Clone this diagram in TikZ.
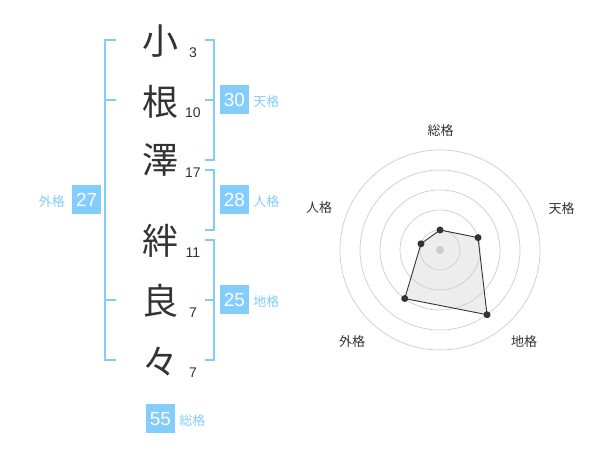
\documentclass[tikz,border=0pt]{standalone}
\usepackage{fontspec}
\newfontfamily\cjk{Noto Sans CJK JP}
\newfontfamily\digits{Liberation Sans}
\usetikzlibrary{positioning}
\definecolor{sky}{RGB}{130,205,252}
\definecolor{ink}{RGB}{51,51,51}
\definecolor{ring}{RGB}{204,204,204}

\tikzset{
  kanji/.style={inner sep=0pt, text=ink, font=\cjk\fontsize{36}{36}\selectfont},
  strokes/.style={inner sep=0pt, text=ink, font=\digits\fontsize{14}{14}\selectfont},
  kakubox/.style={fill=sky, text=white, minimum size=29pt, inner sep=0pt, font=\digits\fontsize{19}{19}\selectfont},
  kakuname/.style={inner sep=0pt, text=sky, font=\cjk\fontsize{13}{13}\selectfont},
  bracket/.style={draw=sky, line width=2pt},
  axisname/.style={inner sep=0pt, text=ink, font=\cjk\fontsize{13}{13}\selectfont},
  ptdot/.style={circle, fill=ink, minimum size=7pt, inner sep=0pt}
}

\begin{document}
\begin{tikzpicture}[x=1pt, y=1pt]
  \useasboundingbox (0,0) rectangle (600,470);

  % name characters and stroke counts
  \node[kanji] (c1) at (160,428.5) {小};
  \node[kanji] (c2) at (160,368.5) {根};
  \node[kanji] (c3) at (160,310) {澤};
  \node[kanji] (c4) at (160,229) {絆};
  \node[kanji] (c5) at (160,169) {良};
  \node[kanji] (c6) at (160,108.3) {々};

  \node[strokes] (n1) at (193,417) {3};
  \node[strokes] (n2) at (193,357) {10};
  \node[strokes] (n3) at (193,297) {17};
  \node[strokes] (n4) at (193,217) {11};
  \node[strokes] (n5) at (193,157) {7};
  \node[strokes] (n6) at (193,97) {7};

  % brackets
  \draw[bracket] (116,430) -- (105,430) -- (105,110) -- (116,110);
  \draw[bracket] (105,370) -- (116,370);
  \draw[bracket] (105,170) -- (116,170);
  \draw[bracket] (205,430) -- (214,430) -- (214,310) -- (205,310);
  \draw[bracket] (205,370) -- (214,370);
  \draw[bracket] (205,300) -- (214,300) -- (214,240) -- (205,240);
  \draw[bracket] (205,230) -- (214,230) -- (214,110) -- (205,110);
  \draw[bracket] (205,170) -- (214,170);

  % kaku boxes
  \node[kakubox] (ten) at (234.5,370) {30};
  \node[kakubox] (jin) at (234.5,270) {28};
  \node[kakubox] (chi) at (234.5,170) {25};
  \node[kakubox] (gai) at (86.7,270) {27};
  \node[kakubox] (sou) at (160.5,51) {55};

  \node[kakuname, right=4pt of ten.base east, anchor=base west] (tenname) {天格};
  \node[kakuname, right=4pt of jin.base east, anchor=base west] (jinname) {人格};
  \node[kakuname, right=4pt of chi.base east, anchor=base west] (chiname) {地格};
  \node[kakuname, right=4pt of sou.base east, anchor=base west] (souname) {総格};
  \node[kakuname, left=7pt of gai.base west, anchor=base east] (gainame) {外格};

  % radar chart
  \begin{scope}[shift={(440,220)}]
    \foreach \r in {20,40,60,80,100}
      \draw[ring, line width=0.7pt] (0,0) circle (\r);
    \coordinate (ps) at (90:20);
    \coordinate (pt) at (18:40);
    \coordinate (pc) at (-54:80);
    \coordinate (pg) at (234:60);
    \coordinate (pj) at (162:20);
    \fill[ring, opacity=0.35] (ps) -- (pt) -- (pc) -- (pg) -- (pj) -- cycle;
    \fill[ring] (0,0) circle (4);
    \draw[ink, line width=0.9pt] (ps) -- (pt) -- (pc) -- (pg) -- (pj) -- cycle;
    \node[ptdot] (ds) at (ps) {};
    \node[ptdot] (dt) at (pt) {};
    \node[ptdot] (dc) at (pc) {};
    \node[ptdot] (dg) at (pg) {};
    \node[ptdot] (dj) at (pj) {};
  \end{scope}

  \node[axisname] (axsou) at (440.5,339) {総格};
  \node[axisname] (axten) at (561.5,261.5) {天格};
  \node[axisname] (axchi) at (524,128) {地格};
  \node[axisname] (axgai) at (352,128) {外格};
  \node[axisname] (axjin) at (319,262) {人格};
\end{tikzpicture}
\end{document}
